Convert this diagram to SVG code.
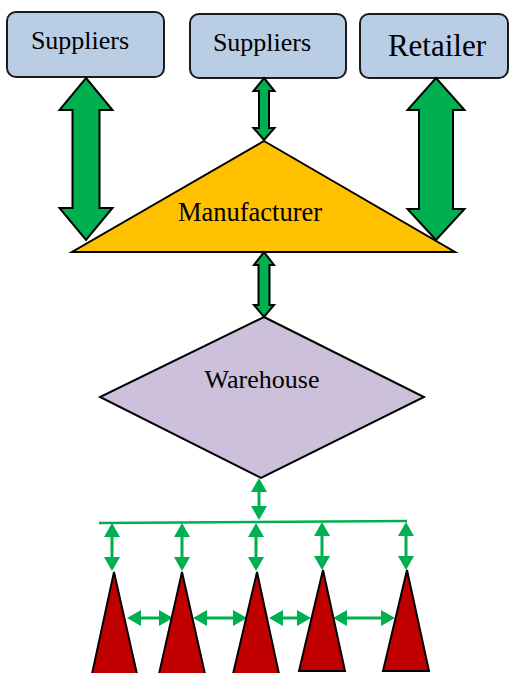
<svg xmlns="http://www.w3.org/2000/svg" width="511" height="673" viewBox="0 0 511 673">
<style>
.box{fill:#B9CDE5;stroke:#1a1a1a;stroke-width:2}
.lbl{fill:#000;text-anchor:middle}
.big{fill:#00B050;stroke:#000;stroke-width:2;stroke-linejoin:miter}
.thin{stroke:#00B050;stroke-width:3;fill:none}
.red{fill:#C00000;stroke:#000;stroke-width:2;stroke-linejoin:miter}
</style>
<defs>
<marker id="ah" viewBox="0 0 14 16" refX="9" refY="8" markerWidth="14" markerHeight="16" markerUnits="userSpaceOnUse" orient="auto-start-reverse">
<path d="M0,0 L14,8 L0,16 z" fill="#00B050"/>
</marker>
</defs>
<rect width="511" height="673" fill="#fff"/>
<g font-family="Liberation Serif, Times New Roman, serif">
<g id="suppliers1"><rect class="box" x="7" y="12" width="157" height="65" rx="9"/><text class="lbl" x="80" y="49" font-size="26">Suppliers</text></g>
<g id="suppliers2"><rect class="box" x="190" y="14" width="156" height="64" rx="9"/><text class="lbl" x="262" y="51" font-size="26">Suppliers</text></g>
<g id="retailer"><rect class="box" x="360" y="14" width="148" height="64" rx="9"/><text class="lbl" x="437" y="56" font-size="31">Retailer</text></g>
<g id="manufacturer"><polygon points="264,141 455,252 72,252" fill="#FFC000" stroke="#000" stroke-width="2"/><text class="lbl" x="250" y="221" font-size="26.5">Manufacturer</text></g>
<g id="warehouse"><polygon points="264,317 424,397 261,478 100,397" fill="#CCC0DA" stroke="#000" stroke-width="2"/><text class="lbl" x="262" y="388" font-size="26">Warehouse</text></g>
</g>
<g id="connectors">
<polygon class="big" points="86,78 112.5,110 99.5,110 99.5,208 112.5,208 86,240 59.5,208 72.5,208 72.5,110 59.5,110"/>
<polygon class="big" points="436,78 464.5,110 453,110 453,209 464.5,209 436,240 407.5,209 419,209 419,110 407.5,110"/>
<polygon class="big" points="264,78 274.5,91 269,91 269,128 274.5,128 264,140 253.5,128 259,128 259,91 253.5,91"/>
<polygon class="big" points="264,252 274,265 269.5,265 269.5,305 274,305 264,317 254,305 258.5,305 258.5,265 254,265"/>
<line class="thin" x1="259" y1="483" x2="259" y2="515" marker-start="url(#ah)" marker-end="url(#ah)"/>
<line x1="99" y1="523" x2="407" y2="521" stroke="#00B050" stroke-width="2.5"/>
<line class="thin" x1="112" y1="528" x2="112" y2="566" marker-start="url(#ah)" marker-end="url(#ah)"/>
<line class="thin" x1="182" y1="528" x2="182" y2="566" marker-start="url(#ah)" marker-end="url(#ah)"/>
<line class="thin" x1="256" y1="528" x2="256" y2="566" marker-start="url(#ah)" marker-end="url(#ah)"/>
<line class="thin" x1="322" y1="527" x2="322" y2="565" marker-start="url(#ah)" marker-end="url(#ah)"/>
<line class="thin" x1="406" y1="527" x2="406" y2="565" marker-start="url(#ah)" marker-end="url(#ah)"/>
<line class="thin" x1="132" y1="618" x2="168" y2="618" marker-start="url(#ah)" marker-end="url(#ah)"/>
<line class="thin" x1="198" y1="618" x2="242" y2="618" marker-start="url(#ah)" marker-end="url(#ah)"/>
<line class="thin" x1="274" y1="618" x2="306" y2="618" marker-start="url(#ah)" marker-end="url(#ah)"/>
<line class="thin" x1="338" y1="618" x2="390" y2="618" marker-start="url(#ah)" marker-end="url(#ah)"/>
</g>
<g id="retail1"><polygon class="red" points="114,572 137,674 92,674"/></g>
<g id="retail2"><polygon class="red" points="182,572 205,674 159,674"/></g>
<g id="retail3"><polygon class="red" points="257,572 279,674 233,674"/></g>
<g id="retail4"><polygon class="red" points="323,570 345,671 299,671"/></g>
<g id="retail5"><polygon class="red" points="407,570 429,671 383,671"/></g>
</svg>
